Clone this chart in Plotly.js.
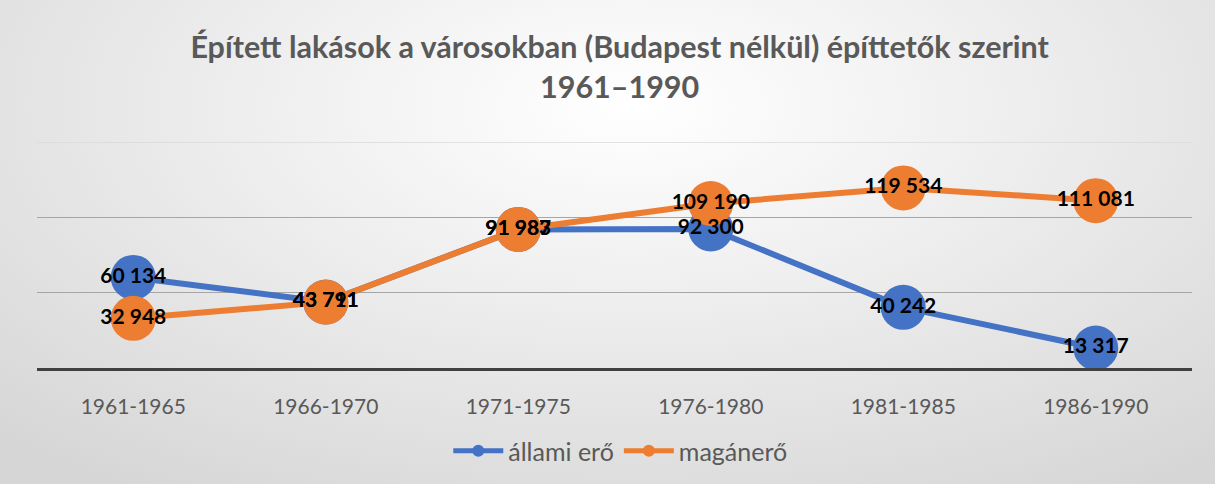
<!DOCTYPE html>
<html>
<head>
<meta charset="utf-8">
<script src="https://cdn.plot.ly/plotly-3.0.1.min.js"></script>
<style>
  html, body { margin: 0; padding: 0; }
  #chart {
    width: 1215px; height: 484px;
    background: radial-gradient(ellipse 75% 95% at 52% 22%, #ffffff 0%, #efefef 40%, #d6d6d6 100%);
  }
</style>
</head>
<body>
<div id="chart"></div>
<script>
const categories = ['1961-1965', '1966-1970', '1971-1975', '1976-1980', '1981-1985', '1986-1990'];
const allamiEro = [60134, 43791, 91983, 92300, 40242, 13317];
const maganero  = [32948, 43711, 91987, 109190, 119534, 111081];
const seriesNames = ['állami erő', 'magánerő'];
const titleText = 'Épített lakások a városokban (Budapest nélkül) építtetők szerint<br>1961–1990';

const labelFont = { family: 'Lato, "Open Sans", sans-serif', size: 21, color: '#000000', weight: 'bold' };

function series(name, values, color) {
  return {
    type: 'scatter', mode: 'lines+markers',
    name: name, x: categories, y: values,
    line: { color: color, width: 6 },
    marker: { color: color, size: 45 },
    cliponaxis: false,
    hoverinfo: 'skip'
  };
}

function labels(values) {
  return {
    type: 'scatter', mode: 'text', showlegend: false,
    x: categories, y: values,
    texttemplate: '<b>%{y:,}</b>',
    textposition: 'middle center',
    textfont: labelFont,
    cliponaxis: false,
    hoverinfo: 'skip'
  };
}

const data = [
  series(seriesNames[0], allamiEro, '#4472C4'),
  series(seriesNames[1], maganero, '#ED7D31'),
  labels(allamiEro),
  labels(maganero)
];

const layout = {
  width: 1215, height: 484,
  paper_bgcolor: 'rgba(0,0,0,0)', plot_bgcolor: 'rgba(0,0,0,0)',
  separators: ', ',
  margin: { l: 37, r: 23, t: 142, b: 116, autoexpand: false },
  title: {
    text: titleText, x: 0.51, xanchor: 'center',
    yref: 'container', y: 1 - 58 / 484, yanchor: 'middle',
    font: { family: 'Lato, sans-serif', size: 30.5, color: '#595959', weight: 'bold' }
  },
  xaxis: {
    type: 'category', range: [-0.5, 5.5],
    showgrid: false, zeroline: false,
    showline: true, linecolor: '#404040', linewidth: 3,
    ticks: 'outside', ticklen: 18, tickcolor: 'rgba(0,0,0,0)',
    tickfont: { family: 'Lato, sans-serif', size: 21, color: '#595959' }
  },
  yaxis: {
    range: [0, 150000], dtick: 50000,
    showgrid: true, gridcolor: '#a6a6a6', gridwidth: 1.5,
    zeroline: false, showticklabels: false, showline: false, ticks: ''
  },
  shapes: [{
    type: 'line', xref: 'paper', x0: 0, x1: 1, yref: 'y', y0: 150000, y1: 150000,
    line: { color: '#dadada', width: 1.5 }, layer: 'below'
  }],
  showlegend: true,
  legend: {
    orientation: 'h', x: 0.505, xanchor: 'center',
    yref: 'container', y: 1 - 451 / 484, yanchor: 'middle',
    font: { family: 'Lato, sans-serif', size: 25, color: '#595959' },
    bgcolor: 'rgba(0,0,0,0)', itemsizing: 'constant', itemwidth: 50
  }
};

Plotly.newPlot('chart', data, layout, { displayModeBar: false, staticPlot: true });
</script>
</body>
</html>
